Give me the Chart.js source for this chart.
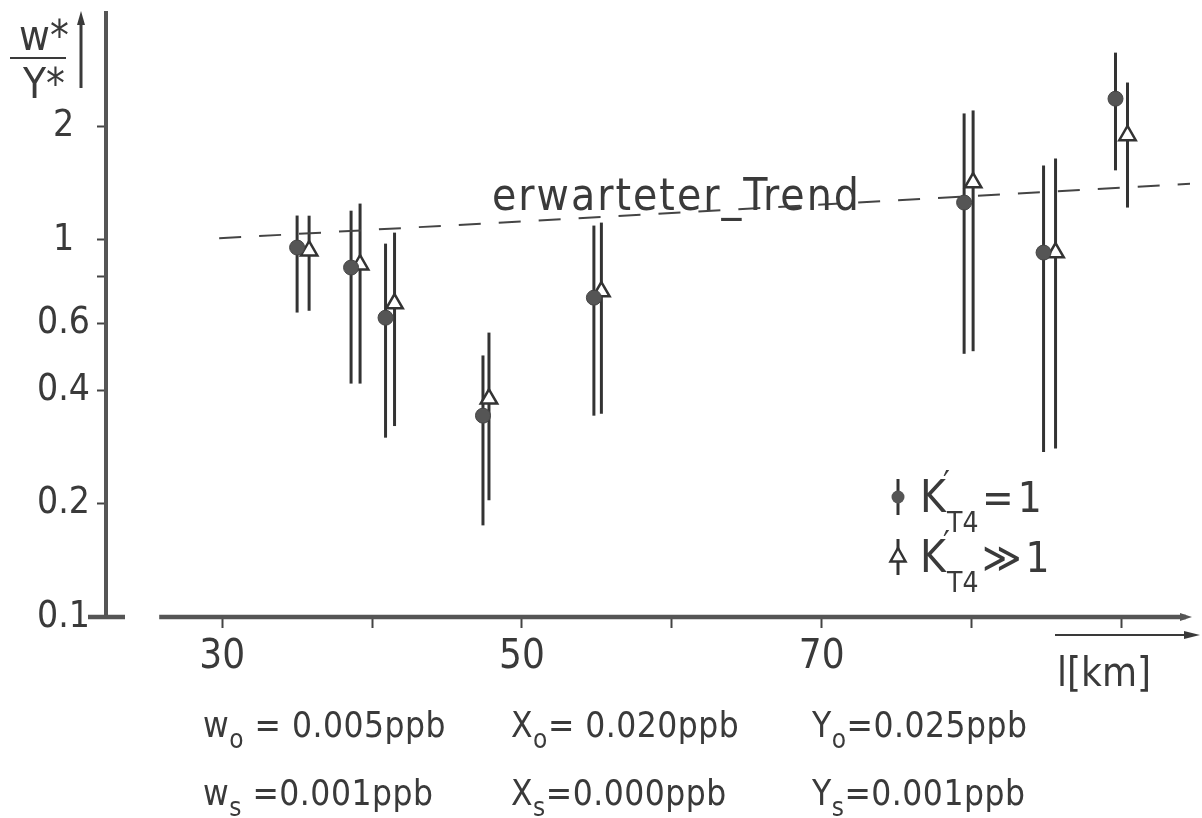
<!DOCTYPE html>
<html>
<head>
<meta charset="utf-8">
<script src="https://cdn.jsdelivr.net/npm/chart.js@4.4.0/dist/chart.umd.min.js"></script>
<style>
  html, body { margin: 0; padding: 0; background: #fff; }
  #wrap { width: 1202px; height: 818px; position: relative; }
</style>
</head>
<body>
<div id="wrap"><canvas id="chart"></canvas></div>
<script>
const xTicks = [30, 40, 50, 60, 70, 80, 90];
const xTickLabels = ["30", "", "50", "", "70", "", ""];
const yTicks = [0.1, 0.2, 0.4, 0.6, 0.8, 1, 2];
const yTickLabels = ["0.1", "0.2", "0.4", "0.6", "", "1", "2"];

// K'T4 = 1 (filled circles)
const circleX = [35.0, 38.6, 40.9, 47.4, 54.8, 79.5, 84.8, 89.6];
const circleY = [0.955, 0.845, 0.622, 0.342, 0.703, 1.257, 0.926, 2.37];
const circleLow = [0.642, 0.416, 0.299, 0.175, 0.342, 0.499, 0.274, 1.53];
const circleHigh = [1.161, 1.196, 0.978, 0.494, 1.092, 2.166, 1.577, 3.14];

// K'T4 >> 1 (open triangles)
const triX = [35.8, 39.2, 41.5, 47.8, 55.3, 80.1, 85.6, 90.4];
const triY = [0.937, 0.86, 0.678, 0.379, 0.73, 1.42, 0.926, 1.893];
const triLow = [0.649, 0.416, 0.321, 0.204, 0.346, 0.507, 0.28, 1.219];
const triHigh = [1.16, 1.249, 1.046, 0.568, 1.112, 2.206, 1.644, 2.616];

// expected trend
const trendX = [29.8, 94.6];
const trendY = [1.01, 1.41];

const paramRows = [
  [["w", "o", " = 0.005ppb"], ["X", "o", "= 0.020ppb"], ["Y", "o", "=0.025ppb"]],
  [["w", "s", " =0.001ppb"], ["X", "s", "=0.000ppb"], ["Y", "s", "=0.001ppb"]]
];

const FONT = "'DejaVu Sans Condensed', 'Liberation Sans Narrow', Roboto, sans-serif";
const INK = "#3a3a3a";
const AXIS = "#555";

function pts(xs, ys) {
  return xs.map((x, i) => ({ x: x, y: ys[i] }));
}

function f(size) {
  return size + "px " + FONT;
}

function arrowHead(ctx, x, y, dx, dy, len, half) {
  ctx.beginPath();
  ctx.moveTo(x, y);
  ctx.lineTo(x - dx * len - dy * half, y - dy * len + dx * half);
  ctx.lineTo(x - dx * len + dy * half, y - dy * len - dx * half);
  ctx.closePath();
  ctx.fill();
}

function subText(ctx, x, y, main, sub, rest, size) {
  ctx.font = f(size);
  ctx.fillText(main, x, y);
  x += ctx.measureText(main).width;
  ctx.font = f(Math.round(size * 0.75));
  ctx.fillText(sub, x, y + size * 0.3);
  x += ctx.measureText(sub).width;
  ctx.font = f(size);
  ctx.fillText(rest, x, y);
}

const decor = {
  id: "decor",
  beforeDatasetsDraw(chart) {
    const ctx = chart.ctx;
    const xs = chart.scales.x, ys = chart.scales.y;
    const a = chart.chartArea;
    ctx.save();
    // error bars
    ctx.strokeStyle = "#333";
    ctx.lineWidth = 3;
    const bars = [[circleX, circleLow, circleHigh], [triX, triLow, triHigh]];
    bars.forEach(([bx, lo, hi]) => {
      bx.forEach((v, i) => {
        const px = xs.getPixelForValue(v);
        ctx.beginPath();
        ctx.moveTo(px, ys.getPixelForValue(lo[i]));
        ctx.lineTo(px, ys.getPixelForValue(hi[i]));
        ctx.stroke();
      });
    });
    // x axis line with arrow
    const y0 = ys.getPixelForValue(0.1);
    ctx.strokeStyle = AXIS;
    ctx.fillStyle = AXIS;
    ctx.lineWidth = 4.5;
    ctx.beginPath();
    ctx.moveTo(xs.getPixelForValue(25.8), y0);
    ctx.lineTo(a.right - 4, y0);
    ctx.stroke();
    arrowHead(ctx, a.right + 2, y0, 1, 0, 12, 4);
    // foot of y axis
    ctx.beginPath();
    ctx.moveTo(a.left - 18, y0);
    ctx.lineTo(a.left + 19, y0);
    ctx.stroke();
    ctx.restore();
  },
  afterDraw(chart) {
    const ctx = chart.ctx;
    const xs = chart.scales.x, ys = chart.scales.y;
    ctx.save();
    ctx.fillStyle = INK;
    ctx.strokeStyle = INK;
    ctx.textBaseline = "alphabetic";

    // y title  w*/Y*
    ctx.textAlign = "center";
    ctx.font = f(42);
    ctx.fillText("w*", 44, 50);
    ctx.fillText("Y*", 44, 98);
    ctx.lineWidth = 2;
    ctx.beginPath();
    ctx.moveTo(10, 58);
    ctx.lineTo(66, 58);
    ctx.stroke();
    // up arrow
    ctx.lineWidth = 3;
    ctx.beginPath();
    ctx.moveTo(81, 88);
    ctx.lineTo(81, 22);
    ctx.stroke();
    arrowHead(ctx, 81, 11, 0, -1, 14, 4);

    // x title l[km] with arrow
    ctx.lineWidth = 2;
    ctx.beginPath();
    ctx.moveTo(1055, 635);
    ctx.lineTo(1186, 635);
    ctx.stroke();
    arrowHead(ctx, 1200, 635, 1, 0, 16, 4);
    ctx.textAlign = "left";
    ctx.font = f(40);
    ctx.fillText("l[km]", 1057, 686);

    // trend label
    ctx.font = f(44);
    ctx.letterSpacing = "2px";
    ctx.fillText("erwarteter_Trend", xs.getPixelForValue(48), ys.getPixelForValue(1.2));
    ctx.letterSpacing = "0px";

    // legend
    const lx = 898;
    const rows = [497, 557];
    ctx.lineWidth = 3;
    ctx.strokeStyle = "#333";
    rows.forEach((ry) => {
      ctx.beginPath();
      ctx.moveTo(lx, ry - 18);
      ctx.lineTo(lx, ry + 18);
      ctx.stroke();
    });
    ctx.fillStyle = "#555";
    ctx.beginPath();
    ctx.arc(lx, rows[0], 6.5, 0, Math.PI * 2);
    ctx.fill();
    ctx.fillStyle = "#fff";
    ctx.lineWidth = 2.5;
    ctx.beginPath();
    ctx.moveTo(lx, rows[1] - 9);
    ctx.lineTo(lx + 7.5, rows[1] + 4.5);
    ctx.lineTo(lx - 7.5, rows[1] + 4.5);
    ctx.closePath();
    ctx.fill();
    ctx.stroke();
    ctx.fillStyle = INK;
    const legendTail = ["=1", "\u226B1"];
    rows.forEach((ry, i) => {
      ctx.font = f(44);
      ctx.fillText("K", 920, ry + 15);
      ctx.font = f(34);
      ctx.fillText("\u2032", 943, ry - 2);
      ctx.font = f(28);
      ctx.fillText("T4", 947, ry + 35);
      ctx.font = f(42);
      ctx.letterSpacing = "4px";
      ctx.fillText(legendTail[i], 982, ry + 15);
      ctx.letterSpacing = "0px";
    });

    // parameter rows
    const colX = [203, 511, 812];
    const rowY = [737, 805];
    ctx.letterSpacing = "0.5px";
    paramRows.forEach((row, r) => {
      row.forEach((p, c) => {
        subText(ctx, colX[c], rowY[r], p[0], p[1], p[2], 35);
      });
    });
    ctx.restore();
  }
};

new Chart(document.getElementById("chart"), {
  type: "scatter",
  data: {
    datasets: [
      {
        label: "erwarteter Trend",
        data: pts(trendX, trendY),
        showLine: true,
        borderColor: "#444",
        borderWidth: 2,
        borderDash: [22, 18],
        pointRadius: 0
      },
      {
        label: "K'T4 = 1",
        data: pts(circleX, circleY),
        pointStyle: "circle",
        pointRadius: 7.5,
        backgroundColor: "#555",
        borderColor: "#444",
        borderWidth: 1
      },
      {
        label: "K'T4 >> 1",
        data: pts(triX, triY),
        pointStyle: "triangle",
        pointRadius: 9.5,
        backgroundColor: "#fff",
        borderColor: "#333",
        borderWidth: 2.5
      }
    ]
  },
  options: {
    responsive: true,
    maintainAspectRatio: false,
    animation: false,
    layout: { padding: { top: 13, right: 4, bottom: 141, left: 0 } },
    plugins: {
      legend: { display: false },
      tooltip: { enabled: false }
    },
    scales: {
      x: {
        type: "linear",
        min: 22.25,
        max: 94.57,
        afterBuildTicks: (s) => { s.ticks = xTicks.map((v) => ({ value: v })); },
        afterFit: (s) => { s.height = 60; s.paddingLeft = 0; s.paddingRight = 0; },
        ticks: {
          autoSkip: false,
          maxRotation: 0,
          padding: 6,
          color: INK,
          font: { family: FONT, size: 40 },
          callback: (v, i) => xTickLabels[i]
        },
        grid: { drawOnChartArea: false, drawTicks: true, tickLength: 11, tickWidth: 2, tickColor: "#444" },
        border: { display: false }
      },
      y: {
        type: "logarithmic",
        min: 0.1,
        max: 4,
        afterBuildTicks: (s) => { s.ticks = yTicks.map((v) => ({ value: v })); },
        afterFit: (s) => { s.width = 106; s.paddingTop = 0; s.paddingBottom = 0; },
        ticks: {
          autoSkip: false,
          padding: 7,
          crossAlign: "center",
          color: INK,
          font: { family: FONT, size: 37 },
          callback: (v, i) => yTickLabels[i]
        },
        grid: { drawOnChartArea: false, drawTicks: true, tickLength: 9, tickWidth: 2, tickColor: "#444" },
        border: { display: true, color: AXIS, width: 4 }
      }
    }
  },
  plugins: [decor]
});
</script>
</body>
</html>
